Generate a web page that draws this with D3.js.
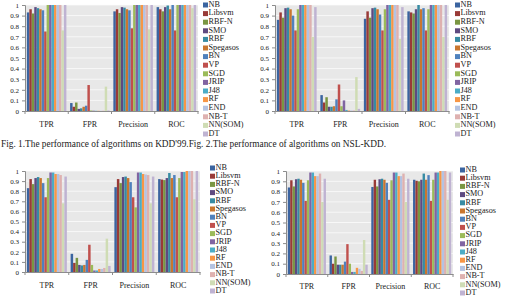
<!DOCTYPE html>
<html lang="en">
<head>
<meta charset="UTF-8">
<title>Performance of algorithms</title>
<script src="https://d3js.org/d3.v7.min.js"></script>
<style>
    body { margin: 0; background: #fff; }
    svg text { font-family: "Liberation Serif", "DejaVu Serif", serif; fill: #222; }
</style>
</head>
<body>
<div id="chart"></div>
<script>
    // algorithms (legend order) and metric groups
    const algorithms = ["NB", "Libsvm", "RBF-N", "SMO", "RBF", "Spegasos", "BN", "VP",
        "SGD", "JRIP", "J48", "RF", "END", "NB-T", "NN(SOM)", "DT"];
    const metrics = ["TPR", "FPR", "Precision", "ROC"];
    const yTicks = [0, 0.1, 0.2, 0.3, 0.4, 0.5, 0.6, 0.7, 0.8, 0.9, 1];
    const colors = ["#3b64a0", "#993a37", "#7a9642", "#5e4a80", "#378ba3", "#c9762f",
        "#4f81bd", "#c0504d", "#9bbb59", "#8064a2", "#4bacc6", "#f79646",
        "#b4c3e2", "#deb1b0", "#cfdcb4", "#bfb3d2"];
    const caption = "Fig. 1.The performance of algorithms on KDD'99.Fig. 2.The performance of algorithms on NSL-KDD.";

    // values per metric, one entry per algorithm
    const fig1Values = [
        [0.93, 0.96, 0.92, 0.98, 0.97, 0.96, 0.95, 0.75, 1.0, 1.0, 1.0, 1.0, 1.0, 1.0, 0.76, 1.0],
        [0.075, 0.04, 0.08, 0.02, 0.025, 0.04, 0.05, 0.245, 0.005, 0.003, 0.002, 0.002, 0.002, 0.003, 0.23, 0.005],
        [0.94, 0.96, 0.925, 0.98, 0.975, 0.96, 0.95, 0.78, 1.0, 1.0, 1.0, 1.0, 1.0, 1.0, 0.77, 1.0],
        [0.98, 0.96, 0.94, 0.98, 0.995, 0.96, 1.0, 0.76, 1.0, 1.0, 1.0, 1.0, 1.0, 1.0, 0.97, 1.0]
    ];
    const fig2Values = [
        [0.86, 0.93, 0.88, 0.97, 0.975, 0.96, 0.90, 0.76, 0.96, 1.0, 1.0, 1.0, 1.0, 1.0, 0.70, 0.98],
        [0.15, 0.08, 0.13, 0.04, 0.04, 0.045, 0.11, 0.25, 0.045, 0.10, 0.01, 0.005, 0.005, 0.005, 0.32, 0.02],
        [0.87, 0.94, 0.88, 0.97, 0.975, 0.96, 0.91, 0.76, 0.96, 1.0, 1.0, 1.0, 1.0, 1.0, 0.68, 0.98],
        [0.94, 0.93, 0.92, 0.96, 1.0, 0.96, 0.97, 0.76, 0.96, 1.0, 1.0, 1.0, 1.0, 1.0, 0.70, 1.0]
    ];
    const fig3Values = [
        [0.83, 0.92, 0.87, 0.93, 0.94, 0.93, 0.88, 0.74, 0.93, 0.985, 0.985, 0.97, 0.97, 0.96, 0.68, 0.945],
        [0.18, 0.09, 0.14, 0.07, 0.065, 0.07, 0.12, 0.27, 0.07, 0.015, 0.015, 0.03, 0.03, 0.04, 0.33, 0.06],
        [0.84, 0.92, 0.88, 0.94, 0.945, 0.93, 0.89, 0.74, 0.64, 0.985, 0.985, 0.97, 0.965, 0.96, 0.68, 0.945],
        [0.92, 0.915, 0.91, 0.93, 0.98, 0.93, 0.96, 0.74, 0.93, 0.99, 0.99, 1.0, 1.0, 1.0, 0.72, 1.0]
    ];
    const fig4Values = [
        [0.84, 0.91, 0.85, 0.92, 0.925, 0.915, 0.885, 0.71, 0.91, 0.985, 0.985, 0.95, 0.95, 0.975, 0.70, 0.925],
        [0.18, 0.10, 0.17, 0.09, 0.09, 0.09, 0.12, 0.29, 0.10, 0.02, 0.02, 0.06, 0.05, 0.03, 0.33, 0.09],
        [0.845, 0.915, 0.85, 0.92, 0.925, 0.915, 0.885, 0.72, 0.91, 0.985, 0.985, 0.95, 0.95, 0.975, 0.70, 0.925],
        [0.915, 0.905, 0.90, 0.915, 0.975, 0.915, 0.96, 0.71, 0.915, 0.985, 0.985, 1.0, 1.0, 1.0, 0.72, 0.985]
    ];

    const svg = d3.select("#chart").append("svg")
        .attr("width", 506)
        .attr("height", 296);

    // draw one grouped bar chart panel
    function drawPanel(values, box) {
        const g = svg.append("g");

        const x0 = d3.scaleBand().domain(metrics).range([box.left, box.right]);
        const x1 = d3.scaleBand().domain(algorithms).range([0, x0.bandwidth()])
            .paddingInner(0).paddingOuter(0.75);
        const y = d3.scaleLinear().domain([0, 1]).range([box.bottom, box.top]);

        // plot background + gridlines
        g.append("rect")
            .attr("x", box.left).attr("y", box.top)
            .attr("width", box.right - box.left).attr("height", box.bottom - box.top)
            .attr("fill", "#e8e8e8");
        g.selectAll(".grid").data(yTicks.slice(1)).enter().append("line")
            .attr("x1", box.left).attr("x2", box.right)
            .attr("y1", d => y(d)).attr("y2", d => y(d))
            .attr("stroke", "#fbfbfb").attr("stroke-width", 0.8);

        // bars
        metrics.forEach((m, mi) => {
            g.append("g").selectAll("rect").data(values[mi]).enter().append("rect")
                .attr("x", (d, i) => x0(m) + x1(algorithms[i]))
                .attr("y", d => y(d))
                .attr("width", x1.bandwidth())
                .attr("height", d => y(0) - y(d))
                .attr("fill", (d, i) => colors[i]);
        });

        // y axis
        const yAxis = g.append("g")
            .attr("transform", `translate(${box.left},0)`)
            .call(d3.axisLeft(y).tickValues(yTicks).tickFormat(d3.format("")).tickSize(3).tickPadding(3));
        yAxis.select(".domain").attr("stroke", "#8c8c8c");
        yAxis.selectAll(".tick line").attr("stroke", "#8c8c8c");
        yAxis.selectAll("text").style("font-size", "7px").attr("fill", "#222");

        // x axis with group dividers
        const xAxis = g.append("g")
            .attr("transform", `translate(0,${box.bottom})`)
            .call(d3.axisBottom(x0).tickSize(0).tickFormat(""));
        xAxis.select(".domain").attr("stroke", "#8c8c8c");
        g.selectAll(".divider").data(d3.range(metrics.length + 1)).enter().append("line")
            .attr("x1", i => box.left + i * x0.bandwidth())
            .attr("x2", i => box.left + i * x0.bandwidth())
            .attr("y1", box.bottom).attr("y2", box.bottom + 3)
            .attr("stroke", "#8c8c8c");
        g.selectAll(".cat").data(metrics).enter().append("text")
            .attr("x", d => x0(d) + x0.bandwidth() / 2)
            .attr("y", box.labelY)
            .attr("text-anchor", "middle")
            .attr("dominant-baseline", "middle")
            .style("font-size", "8px")
            .text(d => d);

        // legend
        const lg = g.append("g");
        algorithms.forEach((a, i) => {
            const ly = box.legendY + i * box.legendStep;
            lg.append("rect")
                .attr("x", box.legendX).attr("y", ly - 2.5)
                .attr("width", 5).attr("height", 5)
                .attr("fill", colors[i]);
            lg.append("text")
                .attr("x", box.legendX + 5.5).attr("y", ly)
                .attr("dominant-baseline", "middle")
                .style("font-size", "8.2px")
                .text(a);
        });
    }

    drawPanel(fig1Values, { left: 25, right: 198, top: 5, bottom: 111, labelY: 125, legendX: 203, legendY: 5, legendStep: 8.6 });
    drawPanel(fig2Values, { left: 275, right: 449, top: 5, bottom: 111, labelY: 125, legendX: 455, legendY: 5, legendStep: 8.6 });
    drawPanel(fig3Values, { left: 25, right: 200, top: 171, bottom: 272, labelY: 286, legendX: 210, legendY: 168, legendStep: 8.2 });
    drawPanel(fig4Values, { left: 286, right: 453, top: 171, bottom: 274, labelY: 287, legendX: 460, legendY: 170, legendStep: 8.2 });

    svg.append("text")
        .attr("x", 1)
        .attr("y", 147)
        .attr("textLength", 385)
        .attr("lengthAdjust", "spacingAndGlyphs")
        .style("font-size", "9.5px")
        .text(caption);
</script>
</body>
</html>
